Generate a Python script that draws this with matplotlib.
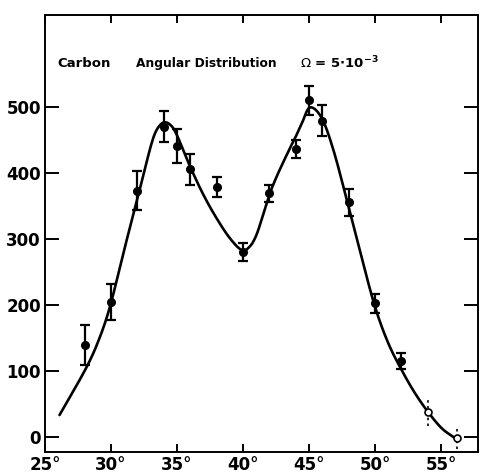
import numpy as np
import matplotlib
matplotlib.use("Agg")
import matplotlib.pyplot as plt

plt.rcParams["mathtext.default"] = "regular"

# measured points (filled)
angle = [28, 30, 32, 34, 35, 36, 38, 40, 42, 44, 45, 46, 48, 50, 52]
counts = [139, 204, 373, 470, 441, 405, 379, 280, 369, 436, 510, 479, 355, 202, 115]
errors = [30, 27, 30, 24, 26, 24, 15, 14, 13, 13, 22, 24, 21, 15, 12]

# open points (dotted error bars)
angle_open = [54, 56.2]
counts_open = [37, -2]
errors_open = [21, 17]

# fitted curve
curve_x = [26.1, 28.03, 29.04, 29.92, 30.93, 31.94, 32.58, 33.08, 33.46, 33.96, 34.47, 34.97,
           35.98, 36.99, 38.0, 39.0, 39.9, 40.5, 41.0, 41.5, 42.0, 42.5, 43.0, 43.5, 44.0,
           44.5, 45.08, 45.96, 46.84, 47.86, 48.86, 50.0, 51.0, 52.02, 53.03, 54.04, 55.05, 56.06]
curve_y = [33, 101, 145, 197, 278, 356, 407, 445, 465, 476, 473, 458,
           410, 367, 331, 301, 283, 288, 305, 335, 367, 392, 414, 435, 455,
           477, 499, 483, 435, 359, 281, 197, 142, 101, 66, 37, 13, -2]

xticks = [25, 30, 35, 40, 45, 50, 55]
xticklabels = ["25°", "30°", "35°", "40°", "45°", "50°", "55°"]
yticks = [0, 100, 200, 300, 400, 500]


def catmull_rom(xs, ys, n=12):
    xs = np.asarray(xs, float); ys = np.asarray(ys, float)
    P = np.column_stack([xs, ys])
    P = np.vstack([2 * P[0] - P[1], P, 2 * P[-1] - P[-2]])
    out = []
    for i in range(1, len(P) - 2):
        p0, p1, p2, p3 = P[i - 1], P[i], P[i + 1], P[i + 2]
        for t in np.linspace(0, 1, n, endpoint=False):
            t2, t3 = t * t, t * t * t
            out.append(0.5 * ((2 * p1) + (-p0 + p2) * t + (2 * p0 - 5 * p1 + 4 * p2 - p3) * t2
                              + (-p0 + 3 * p1 - 3 * p2 + p3) * t3))
    out.append(P[-2])
    out = np.array(out)
    return out[:, 0], out[:, 1]


fig = plt.figure(figsize=(4.8, 4.73), dpi=100)
ax = fig.add_axes([45 / 480, 21 / 473, 433 / 480, 437 / 473])
ax.set_xlim(25, 57.8)
ax.set_ylim(-23, 639)

cx, cy = catmull_rom(curve_x, curve_y)
ax.plot(cx, cy, color="black", lw=1.9, solid_capstyle="round")

ax.errorbar(angle, counts, yerr=errors, fmt="o", color="black", ms=5.5,
            capsize=3.5, elinewidth=1.6, capthick=1.6)
eb = ax.errorbar(angle_open, counts_open, yerr=errors_open, fmt="o", color="black",
                 mfc="white", mec="black", ms=5, mew=1.2, elinewidth=1.2, capsize=0)
for lc in eb[2]:
    lc.set_linestyle((0, (1.5, 2)))

for s in ax.spines.values():
    s.set_linewidth(1.4)

ax.set_xticks(xticks)
ax.set_xticklabels(xticklabels, fontsize=12, fontweight="bold")
ax.set_yticks(yticks)
ax.set_yticklabels([str(v) for v in yticks], fontsize=12, fontweight="bold")
ax.tick_params(axis="x", direction="in", length=6, width=1.4, top=True, pad=3)
ax.tick_params(axis="y", direction="in", length=10, width=1.4, right=True, pad=3)

ty = 0.89
ax.text(0.028, ty, "Carbon", transform=ax.transAxes, fontsize=9.5,
        fontweight="bold", va="center")
ax.text(0.210, ty, "Angular Distribution", transform=ax.transAxes, fontsize=8.8,
        fontweight="bold", va="center")
ax.text(0.589, ty, r"$\it{\Omega}$ = 5$\cdot$10$^{-3}$", transform=ax.transAxes, fontsize=9.5,
        fontweight="bold", va="center")

fig.savefig("out.png", dpi=100)
